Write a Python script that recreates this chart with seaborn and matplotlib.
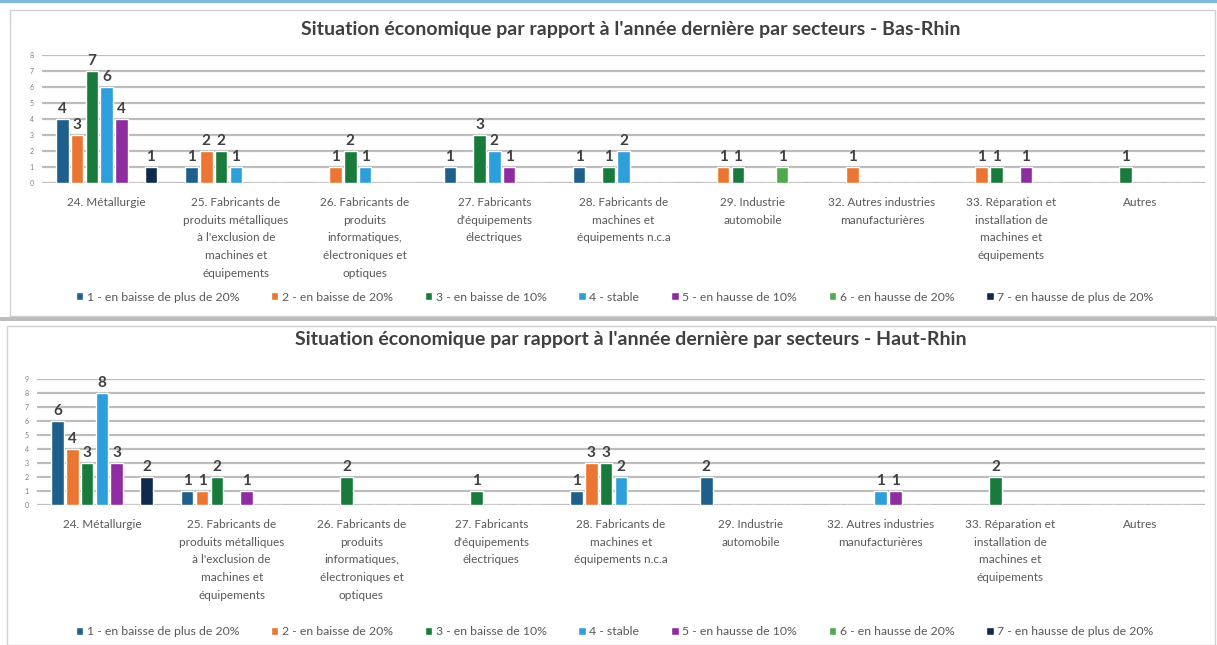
import pandas as pd
import matplotlib
matplotlib.use("Agg")
import matplotlib.pyplot as plt
import seaborn as sns
from matplotlib.patches import Patch, Rectangle

# categories (sector labels, already wrapped like the original)
secteurs = [
    "24. Métallurgie",
    "25. Fabricants de\nproduits métalliques\nà l'exclusion de\nmachines et\néquipements",
    "26. Fabricants de\nproduits\ninformatiques,\nélectroniques et\noptiques",
    "27. Fabricants\nd'équipements\nélectriques",
    "28. Fabricants de\nmachines et\néquipements n.c.a",
    "29. Industrie\nautomobile",
    "32. Autres industries\nmanufacturières",
    "33. Réparation et\ninstallation de\nmachines et\néquipements",
    "Autres",
]

series = [
    "1 - en baisse de plus de 20%",
    "2 - en baisse de 20%",
    "3 - en baisse de 10%",
    "4 - stable",
    "5 - en hausse de 10%",
    "6 - en hausse de 20%",
    "7 - en hausse de plus de 20%",
]

couleurs = ["#1F5F8B", "#EB7533", "#187A3B", "#2D9FDB", "#8E2CA0", "#4FA84B", "#0E2A4C"]

# one list per series, one value per sector
bas_rhin = {
    series[0]: [4, 1, 0, 1, 1, 0, 0, 0, 0],
    series[1]: [3, 2, 1, 0, 0, 1, 1, 1, 0],
    series[2]: [7, 2, 2, 3, 1, 1, 0, 1, 1],
    series[3]: [6, 1, 1, 2, 2, 0, 0, 0, 0],
    series[4]: [4, 0, 0, 1, 0, 0, 0, 1, 0],
    series[5]: [0, 0, 0, 0, 0, 1, 0, 0, 0],
    series[6]: [1, 0, 0, 0, 0, 0, 0, 0, 0],
}

haut_rhin = {
    series[0]: [6, 1, 0, 0, 1, 2, 0, 0, 0],
    series[1]: [4, 1, 0, 0, 3, 0, 0, 0, 0],
    series[2]: [3, 2, 2, 1, 3, 0, 0, 2, 0],
    series[3]: [8, 0, 0, 0, 2, 0, 1, 0, 0],
    series[4]: [3, 1, 0, 0, 0, 0, 1, 0, 0],
    series[5]: [0, 0, 0, 0, 0, 0, 0, 0, 0],
    series[6]: [2, 0, 0, 0, 0, 0, 0, 0, 0],
}

titres = [
    "Situation économique par rapport à l'année dernière par secteurs - Bas-Rhin",
    "Situation économique par rapport à l'année dernière par secteurs - Haut-Rhin",
]

sns.set_theme(style="white")
plt.rcParams["font.family"] = ["Lato", "DejaVu Sans"]

gris = "#595959"


def to_long(data):
    rows = []
    for s in series:
        for sect, v in zip(secteurs, data[s]):
            rows.append({"secteur": sect, "serie": s, "valeur": v})
    return pd.DataFrame(rows)


def draw_panel(ax, data, titre, ymax, leg_y, title_y, fig):
    df = to_long(data)
    sns.barplot(data=df, x="secteur", y="valeur", hue="serie", order=secteurs,
                hue_order=series, palette=couleurs, gap=0.15, saturation=1,
                errorbar=None, legend=False, ax=ax)
    for cont, s in zip(ax.containers, series):
        labels = [str(v) if v > 0 else "" for v in data[s]]
        ax.bar_label(cont, labels=labels, padding=2, fontsize=11,
                     fontweight="bold", color="#404040", clip_on=False)
    ax.set_ylim(0, ymax)
    ax.set_yticks(range(0, ymax + 1))
    ax.yaxis.grid(True, color="#BDBDBD", linewidth=1.6)
    ax.set_axisbelow(True)
    for sp in ax.spines.values():
        sp.set_visible(False)
    ax.tick_params(axis="y", length=0, labelsize=5, labelcolor="#7F7F7F", pad=6)
    ax.tick_params(axis="x", length=0, labelsize=8.5, labelcolor=gris, pad=10)
    for lbl in ax.get_xticklabels():
        lbl.set_linespacing(1.75)
    ax.set_xlabel("")
    ax.set_ylabel("")
    fig.text(0.518, title_y, titre, ha="center", va="center", fontsize=14,
             fontweight="bold", color="#404040")
    handles = [Patch(facecolor=c, label=s) for c, s in zip(couleurs, series)]
    fig.legend(handles=handles, loc="center", bbox_to_anchor=(0.505, leg_y),
               ncol=7, frameon=False, fontsize=8.8, labelcolor=gris,
               handlelength=0.6, handleheight=0.6, handletextpad=0.3,
               columnspacing=2.6)


fig = plt.figure(figsize=(12.17, 6.45), dpi=100)

# panel frames
fig.patches.append(Rectangle((0, 0.995), 1, 0.005, transform=fig.transFigure,
                             facecolor="#7FB8D8", edgecolor="none"))
fig.patches.append(Rectangle((0.008, 0.51), 0.99, 0.475, transform=fig.transFigure,
                             facecolor="none", edgecolor="#D0D0D0", linewidth=1))
fig.patches.append(Rectangle((0.006, 0.0), 0.992, 0.495, transform=fig.transFigure,
                             facecolor="none", edgecolor="#D0D0D0", linewidth=1))
fig.patches.append(Rectangle((0, 0.502), 1, 0.006, transform=fig.transFigure,
                             facecolor="#BDBDBD", edgecolor="none"))

ax1 = fig.add_axes([0.0345, 0.7163, 0.9556, 0.1984])
draw_panel(ax1, bas_rhin, titres[0], 8, 0.5395, 0.9535, fig)

ax2 = fig.add_axes([0.0304, 0.2171, 0.9597, 0.1953])
draw_panel(ax2, haut_rhin, titres[1], 9, 0.0202, 0.473, fig)

fig.savefig("out.png", dpi=100)
